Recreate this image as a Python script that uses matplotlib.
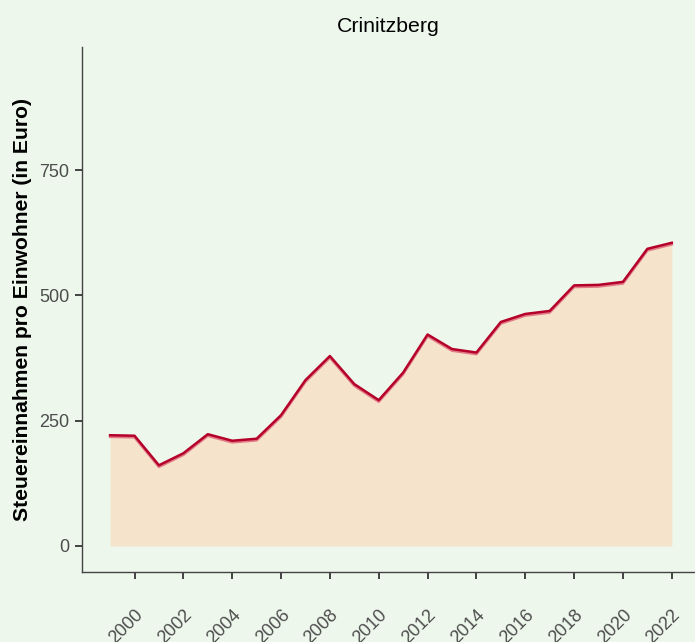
import matplotlib
matplotlib.use("Agg")
import matplotlib.pyplot as plt
import matplotlib.patheffects as pe
import matplotlib.transforms as mtrans

plt.rcParams["font.family"] = ["Liberation Sans", "DejaVu Sans"]

years = list(range(1999, 2023))
steuer = [221, 220, 161, 185, 223, 210, 214, 261, 331, 379, 323, 291,
          346, 422, 393, 386, 447, 463, 469, 520, 521, 527, 593, 605]
y_ticks = [0, 250, 500, 750]
x_ticks = list(range(2000, 2023, 2))

bg = "#edf7ec"
fig = plt.figure(figsize=(6.95, 6.42), dpi=100, facecolor=bg)
ax = fig.add_axes([0.118, 0.109, 0.882, 0.818], facecolor=bg)

ax.fill_between(years, 0, steuer, color="#f5e3cc", lw=0)
ax.plot(years, steuer, color="#b5002a", lw=1.8,
        path_effects=[pe.SimpleLineShadow(offset=(0, -1.2), shadow_color="#e0707f", alpha=0.9),
                      pe.Normal()])

ax.set_xlim(1997.85, 2022.95)
ax.set_ylim(-52, 996)
ax.set_yticks(y_ticks)
ax.set_xticks(x_ticks)
ax.set_xticklabels([str(x) for x in x_ticks], rotation=45, ha="right",
                   va="top", rotation_mode="anchor")
shift = mtrans.ScaledTranslation(3 / 72, 0, fig.dpi_scale_trans)
for lab in ax.get_xticklabels():
    lab.set_transform(lab.get_transform() + shift)

for s in ["top", "right"]:
    ax.spines[s].set_visible(False)
for s in ["left", "bottom"]:
    ax.spines[s].set_color("#444444")
    ax.spines[s].set_linewidth(1.0)
ax.tick_params(axis="both", colors="#333333", labelcolor="#4d4d4d",
               labelsize=13, length=5, width=1.3)
ax.tick_params(axis="x", pad=20)
ax.tick_params(axis="y", pad=4)

ax.set_ylabel("Steuereinnahmen pro Einwohner (in Euro)", fontsize=15.2,
              fontweight="bold", color="black", labelpad=5)
ax.set_title("Crinitzberg", fontsize=15.3, pad=11)

fig.savefig("out.png", dpi=100, facecolor=bg)
